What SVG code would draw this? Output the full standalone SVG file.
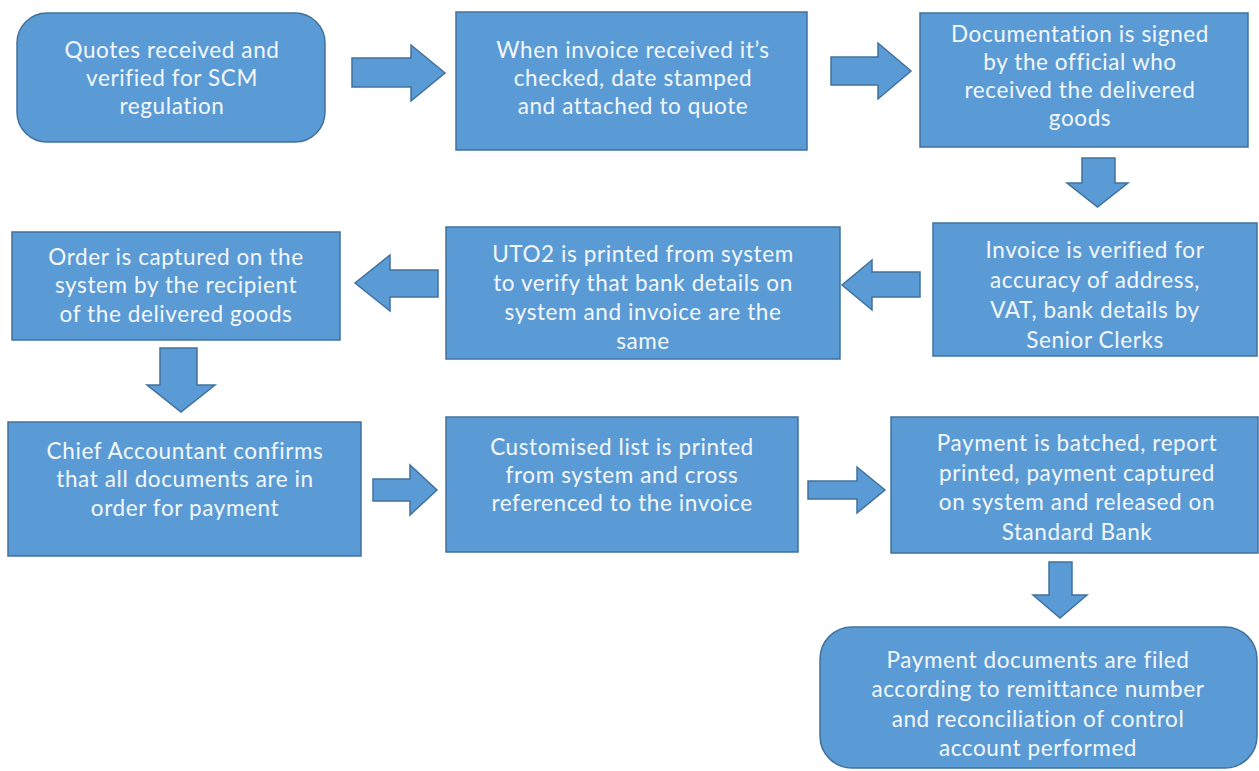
<svg xmlns="http://www.w3.org/2000/svg" width="1259" height="771" viewBox="0 0 1259 771">
<style>
.box{fill:#5b9bd5;stroke:#41719c;stroke-width:1.5}
.arr{fill:#5b9bd5;stroke:#41719c;stroke-width:1.5;stroke-linejoin:miter}
.t{font-family:Lato,"Open Sans","Liberation Sans",sans-serif;font-size:22.5px;letter-spacing:0.6px;fill:#f3f7fc;text-anchor:middle}
</style>
<rect width="1259" height="771" fill="#ffffff"/>
<g id="connectors">
<path class="arr" d="M352,58 H411 V45 L445,73 L411,101 V87 H352 Z"/>
<path class="arr" d="M831,57 H878 V43 L911,71 L878,99 V85 H831 Z"/>
<path class="arr" d="M1082,158 H1115 V183 H1128 L1097.5,207 L1067,183 H1082 Z"/>
<path class="arr" d="M920,272 H872 V260 L842,285 L872,310 V297 H920 Z"/>
<path class="arr" d="M438,270 H390 V255 L355,283 L390,311 V297 H438 Z"/>
<path class="arr" d="M160,348 H197 V385 H215 L181,412 L147,385 H160 Z"/>
<path class="arr" d="M373,479 H410 V465 L437,490 L410,515 V501 H373 Z"/>
<path class="arr" d="M808,481 H857 V467 L885,490 L857,513 V499 H808 Z"/>
<path class="arr" d="M1049,562 H1072 V595 H1087 L1060,618 L1033,595 H1049 Z"/>
</g>
<g id="n1">
<rect class="box" x="17" y="13" width="308" height="129" rx="30"/>
<text class="t" x="172" y="58">Quotes received and</text>
<text class="t" x="172" y="86">verified for SCM</text>
<text class="t" x="172" y="114">regulation</text>
</g>
<g id="n2">
<rect class="box" x="456" y="12" width="351" height="138"/>
<text class="t" x="633" y="58">When invoice received it’s</text>
<text class="t" x="633" y="86">checked, date stamped</text>
<text class="t" x="633" y="114">and attached to quote</text>
</g>
<g id="n3">
<rect class="box" x="920" y="13" width="328" height="134"/>
<text class="t" x="1080" y="42">Documentation is signed</text>
<text class="t" x="1080" y="70">by the official who</text>
<text class="t" x="1080" y="98">received the delivered</text>
<text class="t" x="1080" y="126">goods</text>
</g>
<g id="n4">
<rect class="box" x="933" y="223" width="324" height="133"/>
<text class="t" x="1095" y="258">Invoice is verified for</text>
<text class="t" x="1095" y="288">accuracy of address,</text>
<text class="t" x="1095" y="318">VAT, bank details by</text>
<text class="t" x="1095" y="348">Senior Clerks</text>
</g>
<g id="n5">
<rect class="box" x="446" y="227" width="394" height="132"/>
<text class="t" x="643" y="262">UTO2 is printed from system</text>
<text class="t" x="643" y="291">to verify that bank details on</text>
<text class="t" x="643" y="320">system and invoice are the</text>
<text class="t" x="643" y="349">same</text>
</g>
<g id="n6">
<rect class="box" x="12" y="232" width="328" height="108"/>
<text class="t" x="176" y="265">Order is captured on the</text>
<text class="t" x="176" y="293">system by the recipient</text>
<text class="t" x="176" y="322">of the delivered goods</text>
</g>
<g id="n7">
<rect class="box" x="8" y="422" width="353" height="134"/>
<text class="t" x="185" y="459">Chief Accountant confirms</text>
<text class="t" x="185" y="487">that all documents are in</text>
<text class="t" x="185" y="516">order for payment</text>
</g>
<g id="n8">
<rect class="box" x="446" y="417" width="352" height="135"/>
<text class="t" x="622" y="455">Customised list is printed</text>
<text class="t" x="622" y="483">from system and cross</text>
<text class="t" x="622" y="511">referenced to the invoice</text>
</g>
<g id="n9">
<rect class="box" x="891" y="417" width="367" height="136"/>
<text class="t" x="1077" y="451">Payment is batched, report</text>
<text class="t" x="1077" y="481">printed, payment captured</text>
<text class="t" x="1077" y="510">on system and released on</text>
<text class="t" x="1077" y="540">Standard Bank</text>
</g>
<g id="n10">
<rect class="box" x="820" y="627" width="437" height="141" rx="32"/>
<text class="t" x="1038" y="668">Payment documents are filed</text>
<text class="t" x="1038" y="697">according to remittance number</text>
<text class="t" x="1038" y="727">and reconciliation of control</text>
<text class="t" x="1038" y="756">account performed</text>
</g>
</svg>
